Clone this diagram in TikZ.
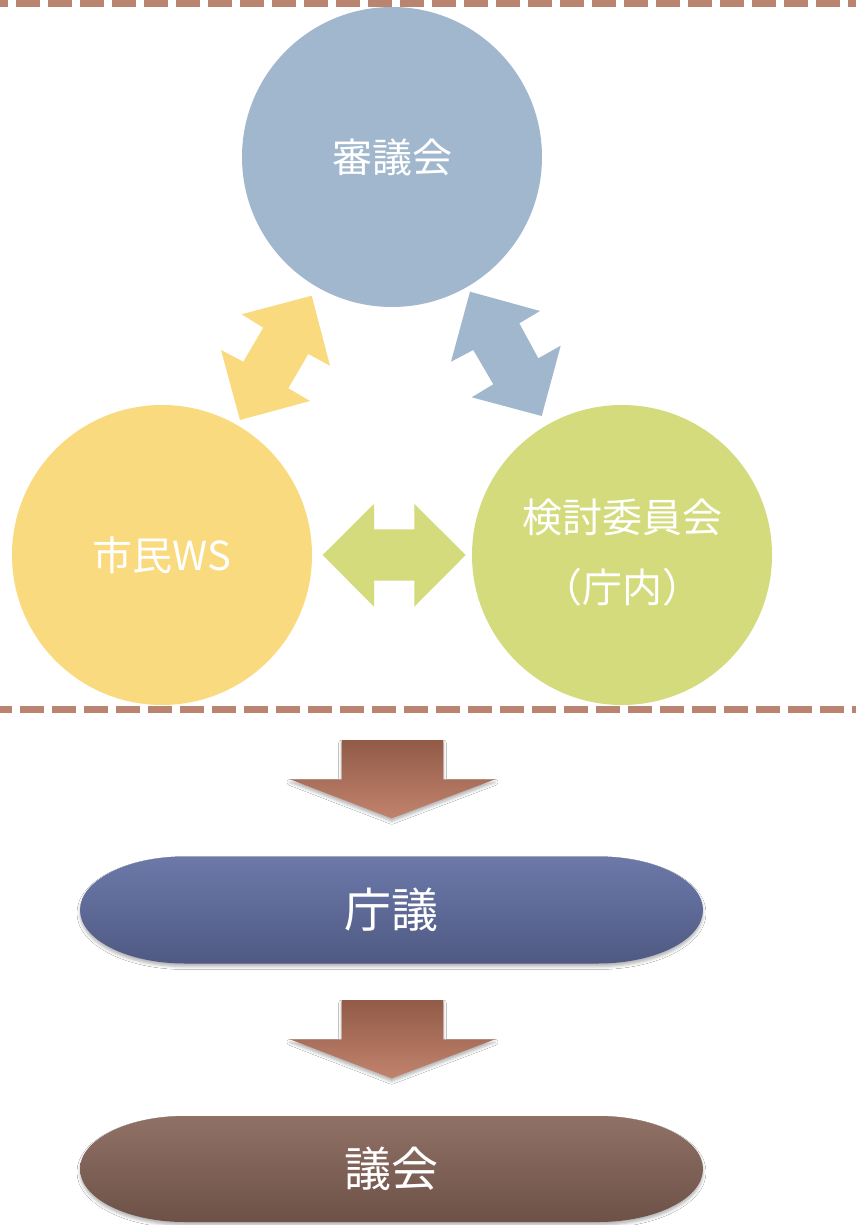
\documentclass[tikz,border=0pt]{standalone}
\usepackage{fontspec}
\setmainfont{Noto Sans CJK JP}
\usetikzlibrary{shadows.blur}
\definecolor{dashc}{HTML}{BA8570}
\definecolor{cblue}{HTML}{A1B7CD}
\definecolor{cyellow}{HTML}{FADA7E}
\definecolor{cgreen}{HTML}{D3DB7C}
\definecolor{arrtop}{HTML}{915B48}
\definecolor{arrbot}{HTML}{C2836C}
\definecolor{pilltopA}{HTML}{6C79A9}
\definecolor{pillbotA}{HTML}{4F5983}
\definecolor{pilltopB}{HTML}{907166}
\definecolor{pillbotB}{HTML}{6D5147}
\tikzset{
  circ/.style={circle, minimum size=300pt, inner sep=0pt, text=white, font=\fontsize{40}{48}\selectfont, align=center},
  circtext/.style={text=white, font=\fontsize{40}{48}\selectfont, inner sep=0pt},
  divider/.style={dashc, line width=7pt},
  pillshape/.style={draw=none,
    blur shadow={shadow xshift=0pt, shadow yshift=-3pt, shadow blur radius=3pt, shadow opacity=30}},
  pilltext/.style={text=white, font=\fontsize{47}{54}\selectfont, inner sep=0pt},
  downarr/.style={top color=arrtop, bottom color=arrbot, draw=none,
    blur shadow={shadow xshift=0pt, shadow yshift=-3pt, shadow blur radius=3pt, shadow opacity=30}}
}
\begin{document}
\begin{tikzpicture}[x=1pt,y=-1pt]
\useasboundingbox (0,0) rectangle (856,1225);
\fill[white] (0,0) rectangle (856,1225);
% dashed dividers
\draw[divider, dash pattern=on 24pt off 8pt, dash phase=16pt] (0,3.5) -- (856,3.5);
\draw[divider, dash pattern=on 24pt off 8pt, dash phase=12pt] (0,709) -- (856,709);
% circles
\node[circ, fill=cblue] (shingi) at (392,157) {審議会};
\node[circ, fill=cyellow] (shimin) at (162,555) {市民WS};
\node[circ, fill=cgreen] (kento) at (622,555) {};
\node[circtext] (kento1) at (622,517) {検討委員会};
\node[circtext] (kento2) at (622,587) {（庁内）};
% block double arrows
\fill[cyellow] (311.7,295.7) -- (330,365.7) -- (308.3,354) -- (288.3,388.3) -- (310,401)
  -- (240,420) -- (221,350) -- (243.3,361.7) -- (263.3,327.7) -- (241.7,314.3) -- cycle;
\fill[cblue] (470,291.7) -- (540,311) -- (519.3,323.3) -- (538.3,358.3) -- (560.7,345.7)
  -- (541.7,416) -- (471.7,397.3) -- (493.3,384.3) -- (473.3,350) -- (451,361.7) -- cycle;
\fill[cgreen] (322.7,555) -- (374,504) -- (374,529.3) -- (414.3,529.3) -- (414.3,504)
  -- (465.7,555) -- (414.3,606.7) -- (414.3,580.7) -- (374,580.7) -- (374,606.7) -- cycle;
% down arrows
\path[downarr] (341.7,740) -- (443.3,740) -- (443.3,779.3) -- (495,779.3) -- (391.7,818.3)
  -- (290,779.3) -- (341.7,779.3) -- cycle;
\path[downarr] (341.7,1000) -- (443.3,1000) -- (443.3,1039.3) -- (495,1039.3) -- (391.7,1078.3)
  -- (290,1039.3) -- (341.7,1039.3) -- cycle;
% pills
\path[pillshape, top color=pilltopA, bottom color=pillbotA]
  (185,856.5) -- (598,856.5) arc[start angle=-90, end angle=90, x radius=105, y radius=53.5]
  -- (185,963.5) arc[start angle=90, end angle=270, x radius=105, y radius=53.5] -- cycle;
\node[pilltext] (chogi) at (391.5,910) {庁議};
\path[pillshape, top color=pilltopB, bottom color=pillbotB]
  (185,1116) -- (598,1116) arc[start angle=-90, end angle=90, x radius=105, y radius=53]
  -- (185,1222) arc[start angle=90, end angle=270, x radius=105, y radius=53] -- cycle;
\node[pilltext] (gikai) at (391.5,1169) {議会};
\end{tikzpicture}
\end{document}
